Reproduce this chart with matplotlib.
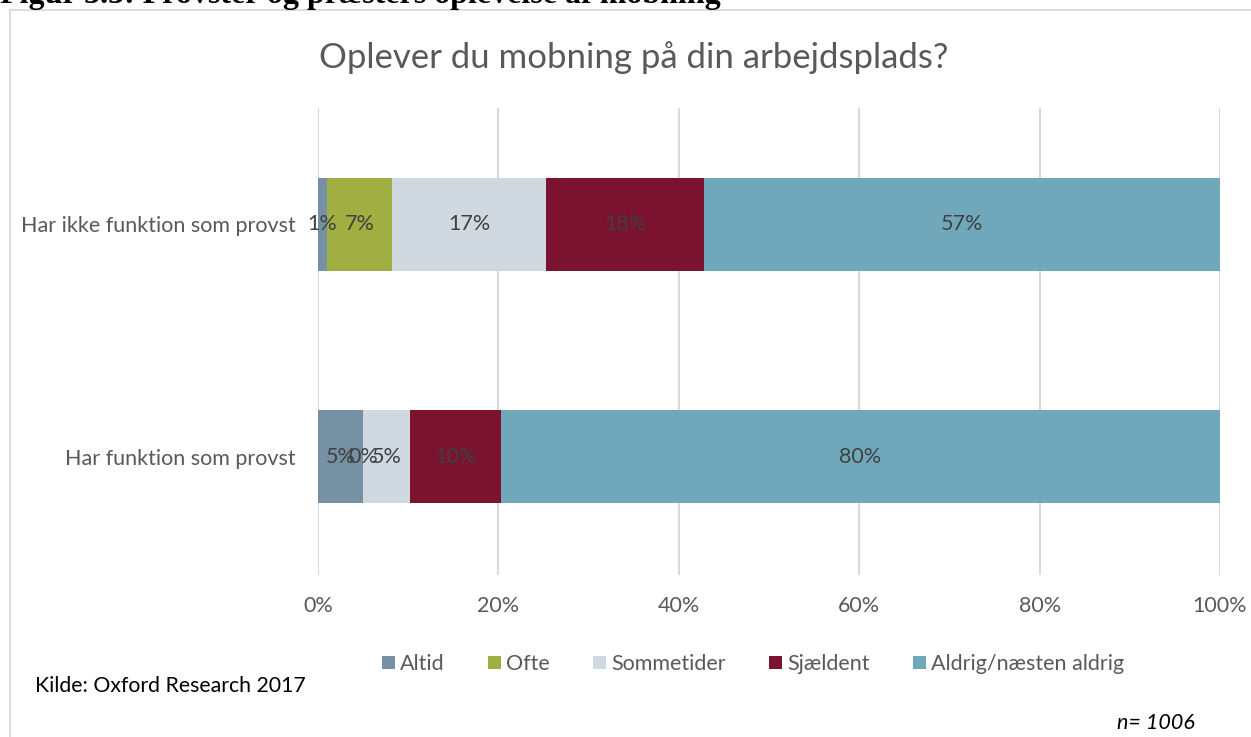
import matplotlib.pyplot as plt
from matplotlib.patches import Rectangle

# data
groups = ["Har funktion som provst", "Har ikke funktion som provst"]
answers = ["Altid", "Ofte", "Sommetider", "Sjældent", "Aldrig/næsten aldrig"]
altid = [5.0, 1.0]
ofte = [0.0, 7.2]
sommetider = [5.2, 17.1]
sjaeldent = [10.1, 17.5]
aldrig = [79.7, 57.2]

colors = ["#7591a3", "#a0ae42", "#d0d8e0", "#7b1230", "#71a7ba"]
text_color = "#595959"
label_color = "#404040"
font = "Lato"

plt.rcParams['font.family'] = [font, 'DejaVu Sans']

fig = plt.figure(figsize=(12.51, 7.37), dpi=100, facecolor="white")

# cut-off heading of the report page
fig.text(0.0, 1 - 3 / 737, "Figur 3.3: Provster og præsters oplevelse af mobning",
         family="Liberation Serif", fontweight="bold", fontsize=23,
         ha="left", va="baseline", color="black")

# chart frame
fig.patches.append(Rectangle((10 / 1251, -0.1), 1.2, 1 - 10 / 737 + 0.1,
                             transform=fig.transFigure, fill=False,
                             edgecolor="#d9d9d9", linewidth=1.3))

ax = fig.add_axes([318 / 1251, 1 - 575 / 737, 902 / 1251, 467 / 737])

series = [altid, ofte, sommetider, sjaeldent, aldrig]
ypos = list(range(len(groups)))
left = [0.0] * len(groups)
for name, vals, col in zip(answers, series, colors):
    bars = ax.barh(ypos, vals, left=left, height=0.4, color=col, label=name, zorder=2)
    for b, v in zip(bars, vals):
        ax.text(b.get_x() + b.get_width() / 2, b.get_y() + b.get_height() / 2,
                f"{v:.0f}%", ha="center", va="center", fontsize=15.5,
                color=label_color, zorder=3)
    left = [l + v for l, v in zip(left, vals)]

ax.set_xlim(0, 100)
ax.set_ylim(-0.51, 1.5)
ax.set_xticks([0, 20, 40, 60, 80, 100])
ax.set_xticklabels(["0%", "20%", "40%", "60%", "80%", "100%"])
ax.set_yticks(ypos)
ax.set_yticklabels(groups)
ax.tick_params(axis="both", length=0, labelsize=15.5, labelcolor=text_color)
ax.tick_params(axis="x", pad=15)
ax.tick_params(axis="y", pad=16)
ax.grid(axis="x", color="#d9d9d9", linewidth=1.5, zorder=0)
ax.set_axisbelow(True)
for s in ax.spines.values():
    s.set_visible(False)

fig.text(634 / 1251, 1 - 58 / 737, "Oplever du mobning på din arbejdsplads?",
         ha="center", va="center", fontsize=25, color=text_color)

leg = fig.legend(loc="center", bbox_to_anchor=(753 / 1251, 1 - 664 / 737),
                 ncol=5, frameon=False, fontsize=15.5, handlelength=0.6,
                 handleheight=0.6, handletextpad=0.25, columnspacing=2.0)
for t in leg.get_texts():
    t.set_color(text_color)

fig.text(35 / 1251, 1 - 686 / 737, "Kilde: Oxford Research 2017",
         ha="left", va="center", fontsize=15.3, color="black")
fig.text(1195 / 1251, 1 - 723 / 737, "n= 1006", ha="right", va="center",
         fontsize=15.5, style="italic", color="black")

fig.savefig("out.png", dpi=100, facecolor="white")
